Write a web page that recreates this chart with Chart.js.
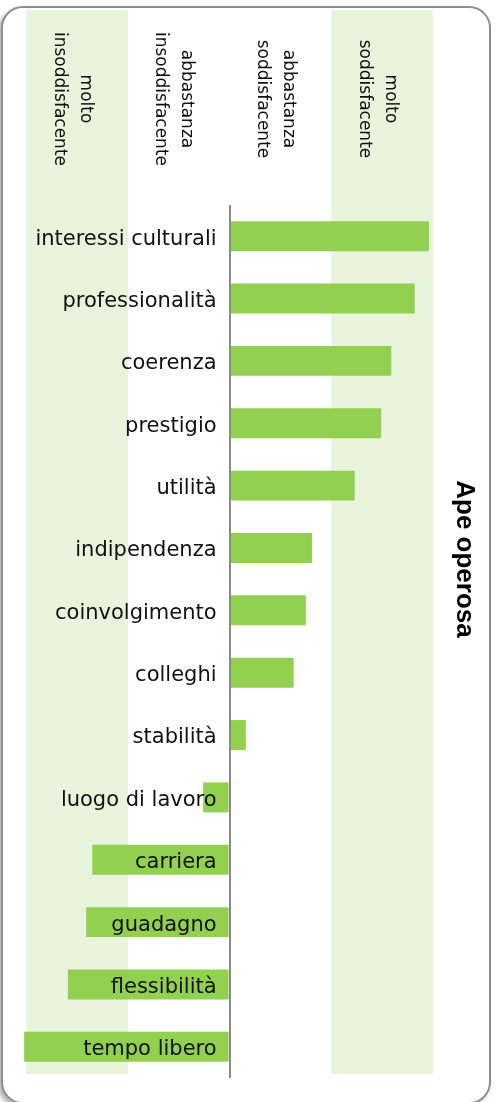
<!DOCTYPE html>
<html>
<head>
<meta charset="utf-8">
<script src="https://cdn.jsdelivr.net/npm/chart.js@4/dist/chart.umd.min.js"></script>
<style>
    html, body { margin: 0; padding: 0; background: #fff; }
    #wrap { position: relative; width: 498px; height: 1102px; overflow: hidden; }
    #frame {
        position: absolute; left: 1px; top: 6px; width: 490px; height: 1098px;
        box-sizing: border-box; border: 2.5px solid #8e8e8e; border-radius: 22px;
        box-shadow: -3px 3px 4px rgba(0, 0, 0, 0.3); background: #fff;
    }
    #chart { position: absolute; left: 0; top: 0; }
</style>
</head>
<body>
<div id="wrap">
    <div id="frame"></div>
    <canvas id="chart" width="498" height="1102"></canvas>
</div>
<script>
// Satisfaction items, best to worst
const items = ['interessi culturali', 'professionalità', 'coerenza', 'prestigio', 'utilità',
    'indipendenza', 'coinvolgimento', 'colleghi', 'stabilità', 'luogo di lavoro',
    'carriera', 'guadagno', 'flessibilità', 'tempo libero'];
const scores = [1.96, 1.82, 1.59, 1.49, 1.23, 0.81, 0.75, 0.63, 0.16, -0.26, -1.35, -1.41, -1.59, -2.02];

// Column headings and the value range each one covers
const bandLabels = [['molto', 'insoddisfacente'], ['abbastanza', 'insoddisfacente'],
    ['abbastanza', 'soddisfacente'], ['molto', 'soddisfacente']];
const bandRanges = [[-2, -1], [-1, 0], [0, 1], [1, 2]];
const shadedBands = [0, 3];
const chartTitle = 'Ape operosa';

const barGreen = '#92d050';
const bandGreen = '#e8f4dc';
const axisGrey = '#8a8a8a';

const bandsAndHeadings = {
    id: 'bandsAndHeadings',
    beforeDraw(chart) {
        const ctx = chart.ctx;
        const x = chart.scales.x;
        ctx.save();
        ctx.fillStyle = bandGreen;
        shadedBands.forEach(i => {
            const x0 = x.getPixelForValue(bandRanges[i][0]);
            const x1 = x.getPixelForValue(bandRanges[i][1]);
            ctx.fillRect(x0, 10, x1 - x0, 1064);
        });
        ctx.restore();
    },
    afterDraw(chart) {
        const ctx = chart.ctx;
        const x = chart.scales.x;
        ctx.save();
        ctx.fillStyle = '#111';
        ctx.font = '17px "DejaVu Sans"';
        ctx.textAlign = 'center';
        ctx.textBaseline = 'middle';
        bandLabels.forEach((lines, i) => {
            const cx = x.getPixelForValue((bandRanges[i][0] + bandRanges[i][1]) / 2) - 5;
            ctx.save();
            ctx.translate(cx, 99);
            ctx.rotate(Math.PI / 2);
            lines.forEach((line, j) => {
                ctx.fillText(line, 0, (j - (lines.length - 1) / 2) * 26);
            });
            ctx.restore();
        });

        // series title down the right side
        ctx.font = 'bold 26px "Liberation Sans"';
        ctx.fillStyle = '#000';
        ctx.translate(464, 559);
        ctx.rotate(Math.PI / 2);
        ctx.fillText(chartTitle, 0, 0);
        ctx.restore();
    }
};

new Chart(document.getElementById('chart'), {
    type: 'bar',
    data: {
        labels: items,
        datasets: [{
            data: scores,
            backgroundColor: barGreen,
            borderWidth: 0,
            categoryPercentage: 1,
            barPercentage: 0.48
        }]
    },
    options: {
        indexAxis: 'y',
        responsive: false,
        animation: false,
        layout: { padding: { left: 16, right: 65, top: 205, bottom: 24 } },
        plugins: {
            legend: { display: false },
            tooltip: { enabled: false }
        },
        scales: {
            x: {
                min: -2.1,
                max: 2,
                ticks: { display: false, stepSize: 1 },
                border: { display: false },
                // only the zero line is drawn, as the axis between the two sides
                grid: {
                    drawTicks: false,
                    z: 1,
                    lineWidth: 2,
                    color: c => c.tick && c.tick.value === 0 ? axisGrey : 'rgba(0,0,0,0)'
                }
            },
            y: {
                // labels sit just left of zero, over the bars
                position: { x: -0.128 },
                grid: { display: false, drawTicks: false },
                border: { display: false },
                ticks: {
                    z: 1,
                    labelOffset: 3,
                    color: '#111',
                    font: { family: '"DejaVu Sans"', size: 21 }
                }
            }
        }
    },
    plugins: [bandsAndHeadings]
});
</script>
</body>
</html>
